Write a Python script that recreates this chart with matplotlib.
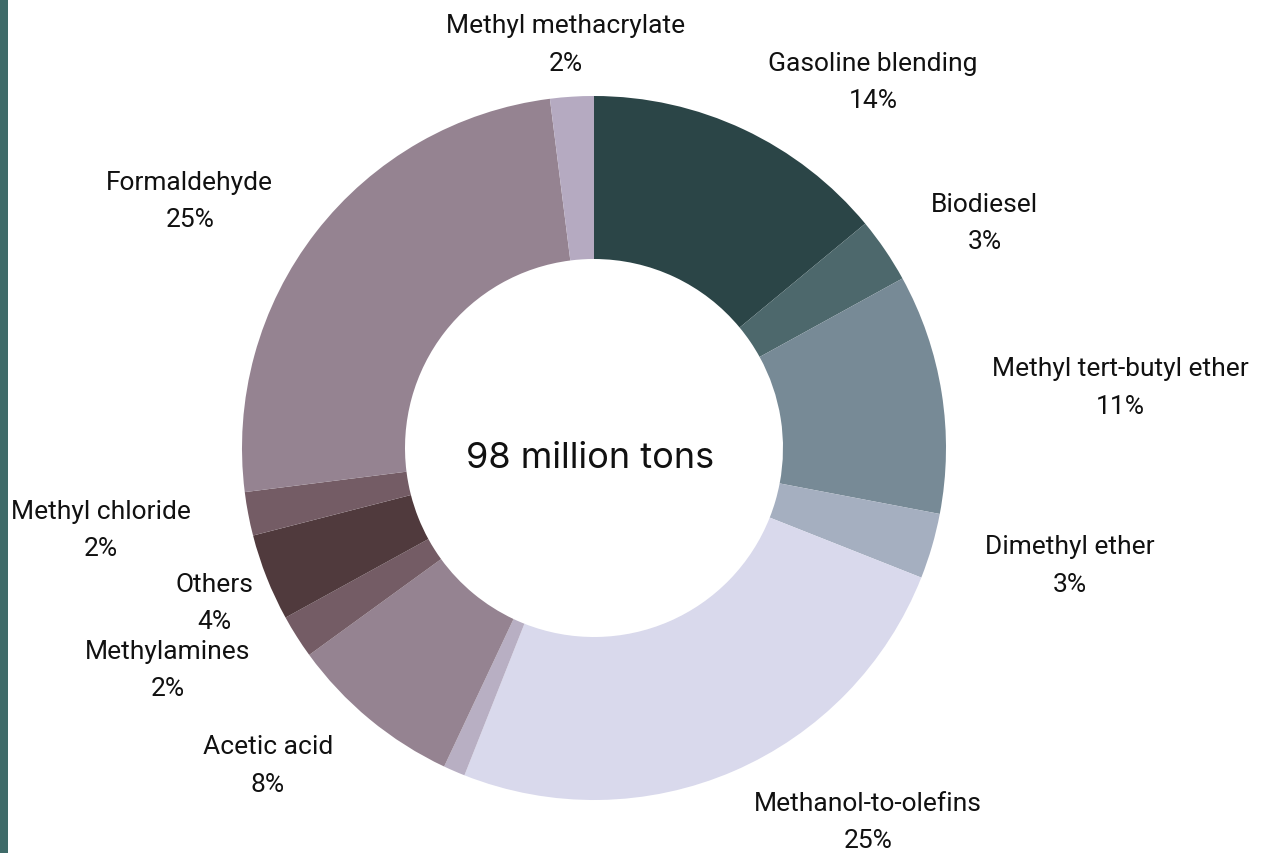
import matplotlib
matplotlib.use("Agg")
import matplotlib.pyplot as plt
import numpy as np
from matplotlib.patches import Wedge

categories = ["Gasoline blending", "Biodiesel", "Methyl tert-butyl ether", "Dimethyl ether",
              "Methanol-to-olefins", "", "Acetic acid", "Methylamines", "Others",
              "Methyl chloride", "Formaldehyde", "Methyl methacrylate"]
values = [14, 3, 11, 3, 25, 1, 8, 2, 4, 2, 25, 2]
colors = ["#2b4547", "#4d686c", "#778a96", "#a5afc0", "#d9d9ec", "#b8afc3",
          "#958391", "#745c65", "#503a3d", "#745c65", "#958391", "#b5aac1"]
center_text = "98 million tons"

# label nudges (pixels) for readability
nudges = {"Others": (35, 11), "Methyl methacrylate": (-4, -14), "Gasoline blending": (-4, -13),
          "Methanol-to-olefins": (-7, 15), "Formaldehyde": (0, -8), "Acetic acid": (0, 16),
          "Biodiesel": (2, -6), "Dimethyl ether": (4, 8), "Methylamines": (-2, 12),
          "Methyl chloride": (-7, 8)}

W, H = 1266, 854
fig = plt.figure(figsize=(W / 100, H / 100), dpi=100)
ax = fig.add_axes([0, 0, 1, 1])
ax.set_xlim(0, W)
ax.set_ylim(H, 0)
ax.axis("off")

# left accent strip
ax.add_patch(plt.Rectangle((0, 0), 8, H, color="#3f6b69", lw=0))

cx, cy = 594, 449
R, r_in = 352, 189

total = sum(values)
start = 0.0
for cat, v, c in zip(categories, values, colors):
    a0 = start / total * 360
    a1 = (start + v) / total * 360
    w = Wedge((cx, cy), R, a0 - 90, a1 - 90, width=R - r_in, facecolor=c, edgecolor="none")
    ax.add_patch(w)
    if cat:
        mid = np.deg2rad((a0 + a1) / 2)
        rl = R * 1.11
        lx = cx + rl * np.sin(mid)
        ly = cy - rl * np.cos(mid)
        dx, dy = nudges.get(cat, (0, 0))
        s = np.sin(mid)
        ha = "left" if s > 0.1 else ("right" if s < -0.1 else "center")
        off = 12 if ha == "left" else (-12 if ha == "right" else 0)
        ax.text(lx + off + dx, ly + dy, f"{cat}\n{v}%", ha=ha, va="center",
                multialignment="center", fontsize=19, family="Roboto",
                color="#111111", linespacing=1.7)
    start += v

ax.text(cx - 4, cy + 10, center_text, ha="center", va="center", fontsize=26,
        family="Inter", color="#111111")

fig.savefig("out.png", dpi=100)
